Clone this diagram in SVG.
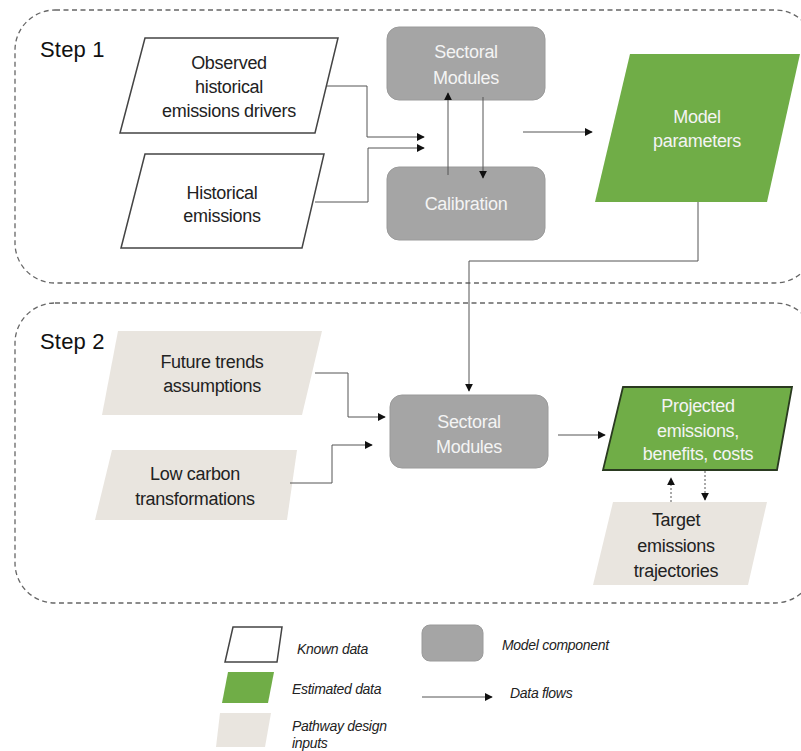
<svg xmlns="http://www.w3.org/2000/svg" width="801" height="751" viewBox="0 0 801 751">
<style>
.frame{fill:none;stroke:#666;stroke-width:1.3;stroke-dasharray:5 3.5}
.known{fill:#fff;stroke:#444;stroke-width:1.5}
.est{fill:#70ad47}
.est2{fill:#70ad47;stroke:#2a3a20;stroke-width:1.8}
.path{fill:#e9e5df}
.mod{fill:#a5a5a5;stroke:#9a9a9a;stroke-width:1}
.t{font-family:"Liberation Sans",Arial,sans-serif;font-size:18px;fill:#222;text-anchor:middle;letter-spacing:-0.3px}
.w{fill:#f4f4f4}
.step{font-family:"Liberation Sans",Arial,sans-serif;font-size:22px;fill:#111;letter-spacing:0.2px}
.lg{font-family:"Liberation Sans",Arial,sans-serif;font-size:14px;font-style:italic;fill:#222;letter-spacing:-0.3px}
.c{fill:none;stroke:#555;stroke-width:1}
.d{fill:none;stroke:#555;stroke-width:1;stroke-dasharray:2 2}
</style>
<defs>
<marker id="ah" viewBox="0 0 10 10" refX="9" refY="5" markerWidth="8" markerHeight="8" markerUnits="userSpaceOnUse" orient="auto">
<path d="M0,0 L10,5 L0,10 Z" fill="#111"/>
</marker>
</defs>

<g id="step1-frame">
<rect class="frame" x="15" y="10" width="800" height="273" rx="40"/>
<text class="step" x="40" y="57">Step 1</text>
</g>
<g id="step2-frame">
<rect class="frame" x="15" y="303" width="800" height="300" rx="40"/>
<text class="step" x="40" y="349">Step 2</text>
</g>

<g id="observed">
<polygon class="known" points="145,38 338,38 315,133 120,133"/>
<text class="t" x="229" y="69">Observed</text>
<text class="t" x="229" y="93">historical</text>
<text class="t" x="229" y="117">emissions drivers</text>
</g>
<g id="historical">
<polygon class="known" points="145,154 324,154 302,248 121,248"/>
<text class="t" x="222" y="199">Historical</text>
<text class="t" x="222" y="222">emissions</text>
</g>
<g id="sectoral1">
<rect class="mod" x="387" y="27" width="158" height="73" rx="12"/>
<text class="t w" x="466" y="58">Sectoral</text>
<text class="t w" x="466" y="84">Modules</text>
</g>
<g id="calibration">
<rect class="mod" x="387" y="167" width="158" height="73" rx="12"/>
<text class="t w" x="466" y="210">Calibration</text>
</g>
<g id="model-params">
<polygon class="est" points="630,54 800,54 767,202 595,202"/>
<text class="t w" x="697" y="123">Model</text>
<text class="t w" x="697" y="147">parameters</text>
</g>

<g id="future-trends">
<polygon class="path" points="118,331 322,331 302,415 102,415"/>
<text class="t" x="212" y="368">Future trends</text>
<text class="t" x="212" y="392">assumptions</text>
</g>
<g id="low-carbon">
<polygon class="path" points="112,450 297,450 287,520 95,520"/>
<text class="t" x="195" y="480">Low carbon</text>
<text class="t" x="195" y="505">transformations</text>
</g>
<g id="sectoral2">
<rect class="mod" x="390" y="395" width="158" height="73" rx="12"/>
<text class="t w" x="469" y="428">Sectoral</text>
<text class="t w" x="469" y="453">Modules</text>
</g>
<g id="projected">
<polygon class="est2" points="623,387 792,387 777,470 603,470"/>
<text class="t w" x="698" y="412">Projected</text>
<text class="t w" x="698" y="437">emissions,</text>
<text class="t w" x="698" y="460">benefits, costs</text>
</g>
<g id="target">
<polygon class="path" points="613,502 767,502 748,585 593,585"/>
<text class="t" x="676" y="526">Target</text>
<text class="t" x="676" y="552">emissions</text>
<text class="t" x="676" y="577">trajectories</text>
</g>

<g id="connectors">
<polyline class="c" points="327,86 367,86 367,137 424,137" marker-end="url(#ah)"/>
<polyline class="c" points="315,202 368,202 368,148 424,148" marker-end="url(#ah)"/>
<line class="c" x1="448" y1="175" x2="448" y2="93" marker-end="url(#ah)"/>
<line class="c" x1="483" y1="97" x2="483" y2="178" marker-end="url(#ah)"/>
<line class="c" x1="523" y1="132" x2="592" y2="132" marker-end="url(#ah)"/>
<polyline class="c" points="698,202 698,261 469,261 469,391" marker-end="url(#ah)"/>
<polyline class="c" points="315,373 348,373 348,417 385,417" marker-end="url(#ah)"/>
<polyline class="c" points="290,483 332,483 332,445 372,445" marker-end="url(#ah)"/>
<line class="c" x1="558" y1="435" x2="605" y2="435" marker-end="url(#ah)"/>
<line class="d" x1="671" y1="502" x2="671" y2="478" marker-end="url(#ah)"/>
<line class="d" x1="705" y1="471" x2="705" y2="500" marker-end="url(#ah)"/>
</g>

<g id="legend">
<polygon class="known" points="233,627 282,627 277,662 225,662"/>
<text class="lg" x="297" y="654">Known data</text>
<polygon class="est" points="228,672 274,672 268,703 222,703"/>
<text class="lg" x="292" y="694">Estimated data</text>
<polygon class="path" points="220,713 271,713 265,747 216,747"/>
<text class="lg" x="292" y="731">Pathway design</text>
<text class="lg" x="292" y="748">inputs</text>
<rect class="mod" x="422" y="625" width="61" height="36" rx="8"/>
<text class="lg" x="502" y="650">Model component</text>
<line class="c" x1="422" y1="697" x2="492" y2="697" marker-end="url(#ah)"/>
<text class="lg" x="510" y="698">Data flows</text>
</g>
</svg>
